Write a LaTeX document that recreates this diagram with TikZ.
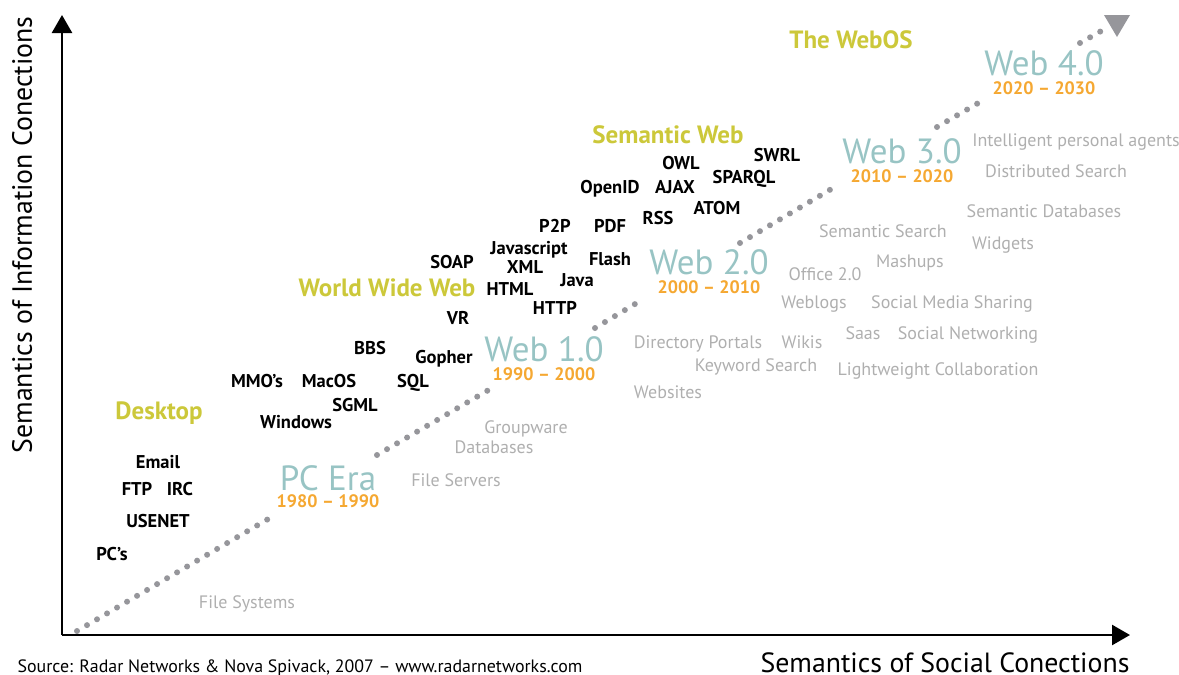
\documentclass[tikz,border=0pt]{standalone}
\usepackage{fontspec}
\setmainfont{PT Sans}
\usetikzlibrary{arrows.meta}
\definecolor{eraYellow}{HTML}{CCC83A}
\definecolor{eraTeal}{HTML}{98C4C4}
\definecolor{yearOrange}{HTML}{F5A832}
\definecolor{techGray}{HTML}{AFAFAF}
\definecolor{dotGray}{HTML}{96969B}

\begin{document}
\begin{tikzpicture}[x=1pt, y=-1pt,
    every node/.style={inner sep=0pt, text depth=0pt},
    tech/.style={font=\bfseries\fontsize{18.5}{18.5}\selectfont, text height=13pt},
    trend/.style={text=eraYellow, font=\bfseries\fontsize{25}{25}\selectfont, text height=17.5pt},
    era/.style={text=eraTeal, font=\fontsize{35}{35}\selectfont, text height=24.5pt},
    years/.style={text=yearOrange, font=\bfseries\fontsize{18}{18}\selectfont, text height=12.6pt},
    soft/.style={text=techGray, font=\fontsize{18}{18}\selectfont, text height=12.6pt},
    axislabel/.style={font=\fontsize{27.8}{27.8}\selectfont, text height=19.5pt},
    trendline/.style={dotGray, line width=6pt, line cap=round, dash pattern=on 0pt off 11.6pt}]
    \useasboundingbox (0,0) rectangle (1179,675);
    % axes
    \coordinate (O) at (62,635);
    \coordinate (ytop) at (62,15);
    \coordinate (xend) at (1130,635);
    \draw[line width=2.6pt, -{Triangle[width=20pt,length=18pt]}] (O) -- (ytop);
    \draw[line width=2.6pt, -{Triangle[width=20pt,length=18pt]}] (O) -- (xend);
    \node[axislabel, rotate=90] (ylab) at (22,235) {Semantics of Information Conections};
    \node[axislabel] (xlab) at (945,663) {Semantics of Social Conections};
    \node[font=\fontsize{17.9}{17.9}\selectfont, text height=12.5pt] (src) at (300,666) {Source: Radar Networks \& Nova Spivack, 2007 – www.radarnetworks.com};
    % dotted trend, broken at each era
    \coordinate (d1a) at (77,631);   \coordinate (d1b) at (275,515);
    \coordinate (d2a) at (377,455);  \coordinate (d2b) at (492,388);
    \coordinate (d3a) at (595,328);  \coordinate (d3b) at (640,301);
    \coordinate (d4a) at (740,243);  \coordinate (d4b) at (833,188);
    \coordinate (d5a) at (937,127);  \coordinate (d5b) at (980,102);
    \coordinate (d6a) at (1080,43);  \coordinate (d6b) at (1103,30);
    \draw[trendline] (d1a) -- (d1b);
    \draw[trendline] (d2a) -- (d2b);
    \draw[trendline] (d3a) -- (d3b);
    \draw[trendline] (d4a) -- (d4b);
    \draw[trendline] (d5a) -- (d5b);
    \draw[trendline] (d6a) -- (d6b);
    \fill[dotGray] (1104,15) -- (1130,15) -- (1117,37) -- cycle;
    % eras
    \node[era] (pcera) at (328,478) {PC Era};
    \node[years] (y1980) at (328,501) {1980 – 1990};
    \node[era] (web1) at (544,349) {Web 1.0};
    \node[years] (y1990) at (544,374) {1990 – 2000};
    \node[era] (web2) at (709,262) {Web 2.0};
    \node[years] (y2000) at (709,287) {2000 – 2010};
    \node[era] (web3) at (902,151) {Web 3.0};
    \node[years] (y2010) at (902,176) {2010 – 2020};
    \node[era] (web4) at (1044,63) {Web 4.0};
    \node[years] (y2020) at (1044,88) {2020 – 2030};
    % trends
    \node[trend] (desktop) at (159,411) {Desktop};
    \node[trend] (www) at (387,288) {World Wide Web};
    \node[trend] (semweb) at (668,135) {Semantic Web};
    \node[trend] (webos) at (851,40) {The WebOS};
    % technologies
    \node[tech] (pcs) at (112,554) {PC’s};
    \node[tech] (usenet) at (158,521) {USENET};
    \node[tech] (ftp) at (137,489) {FTP};
    \node[tech] (irc) at (180,489) {IRC};
    \node[tech] (email) at (158,462) {Email};
    \node[tech] (windows) at (296,422) {Windows};
    \node[tech] (sgml) at (355,405) {SGML};
    \node[tech] (mmos) at (257,381) {MMO’s};
    \node[tech] (macos) at (329,381) {MacOS};
    \node[tech] (sql) at (413,381) {SQL};
    \node[tech] (bbs) at (370,348) {BBS};
    \node[tech] (gopher) at (444,357) {Gopher};
    \node[tech] (vr) at (458,318) {VR};
    \node[tech] (soap) at (452,262) {SOAP};
    \node[tech] (jscript) at (529,248) {Javascript};
    \node[tech] (xml) at (525,267) {XML};
    \node[tech] (html) at (510,289) {HTML};
    \node[tech] (http) at (555,308) {HTTP};
    \node[tech] (java) at (577,280) {Java};
    \node[tech] (ptwop) at (555,226) {P2P};
    \node[tech] (pdf) at (610,226) {PDF};
    \node[tech] (flash) at (610,259) {Flash};
    \node[tech] (rss) at (658,218) {RSS};
    \node[tech] (openid) at (610,187) {OpenID};
    \node[tech] (ajax) at (675,187) {AJAX};
    \node[tech] (owl) at (681,163) {OWL};
    \node[tech] (atom) at (717,208) {ATOM};
    \node[tech] (sparql) at (744,177) {SPARQL};
    \node[tech] (swrl) at (777,155) {SWRL};
    % applications
    \node[soft] (filesys) at (247,602) {File Systems};
    \node[soft] (fileserv) at (456,480) {File Servers};
    \node[soft] (groupware) at (526,427) {Groupware};
    \node[soft] (databases) at (494,447) {Databases};
    \node[soft] (websites) at (668,392) {Websites};
    \node[soft] (portals) at (698,342) {Directory Portals};
    \node[soft] (keyword) at (756,365) {Keyword Search};
    \node[soft] (wikis) at (802,342) {Wikis};
    \node[soft] (saas) at (863,333) {Saas};
    \node[soft] (socnet) at (968,333) {Social Networking};
    \node[soft] (lwcollab) at (938,369) {Lightweight Collaboration};
    \node[soft] (weblogs) at (814,302) {Weblogs};
    \node[soft] (mediashare) at (952,302) {Social Media Sharing};
    \node[soft] (office) at (825,274) {Office 2.0};
    \node[soft] (mashups) at (910,261) {Mashups};
    \node[soft] (semsearch) at (883,231) {Semantic Search};
    \node[soft] (widgets) at (1003,243) {Widgets};
    \node[soft] (semdb) at (1044,211) {Semantic Databases};
    \node[soft] (distsearch) at (1056,171) {Distributed Search};
    \node[soft] (agents) at (1076,140) {Intelligent personal agents};
\end{tikzpicture}
\end{document}
